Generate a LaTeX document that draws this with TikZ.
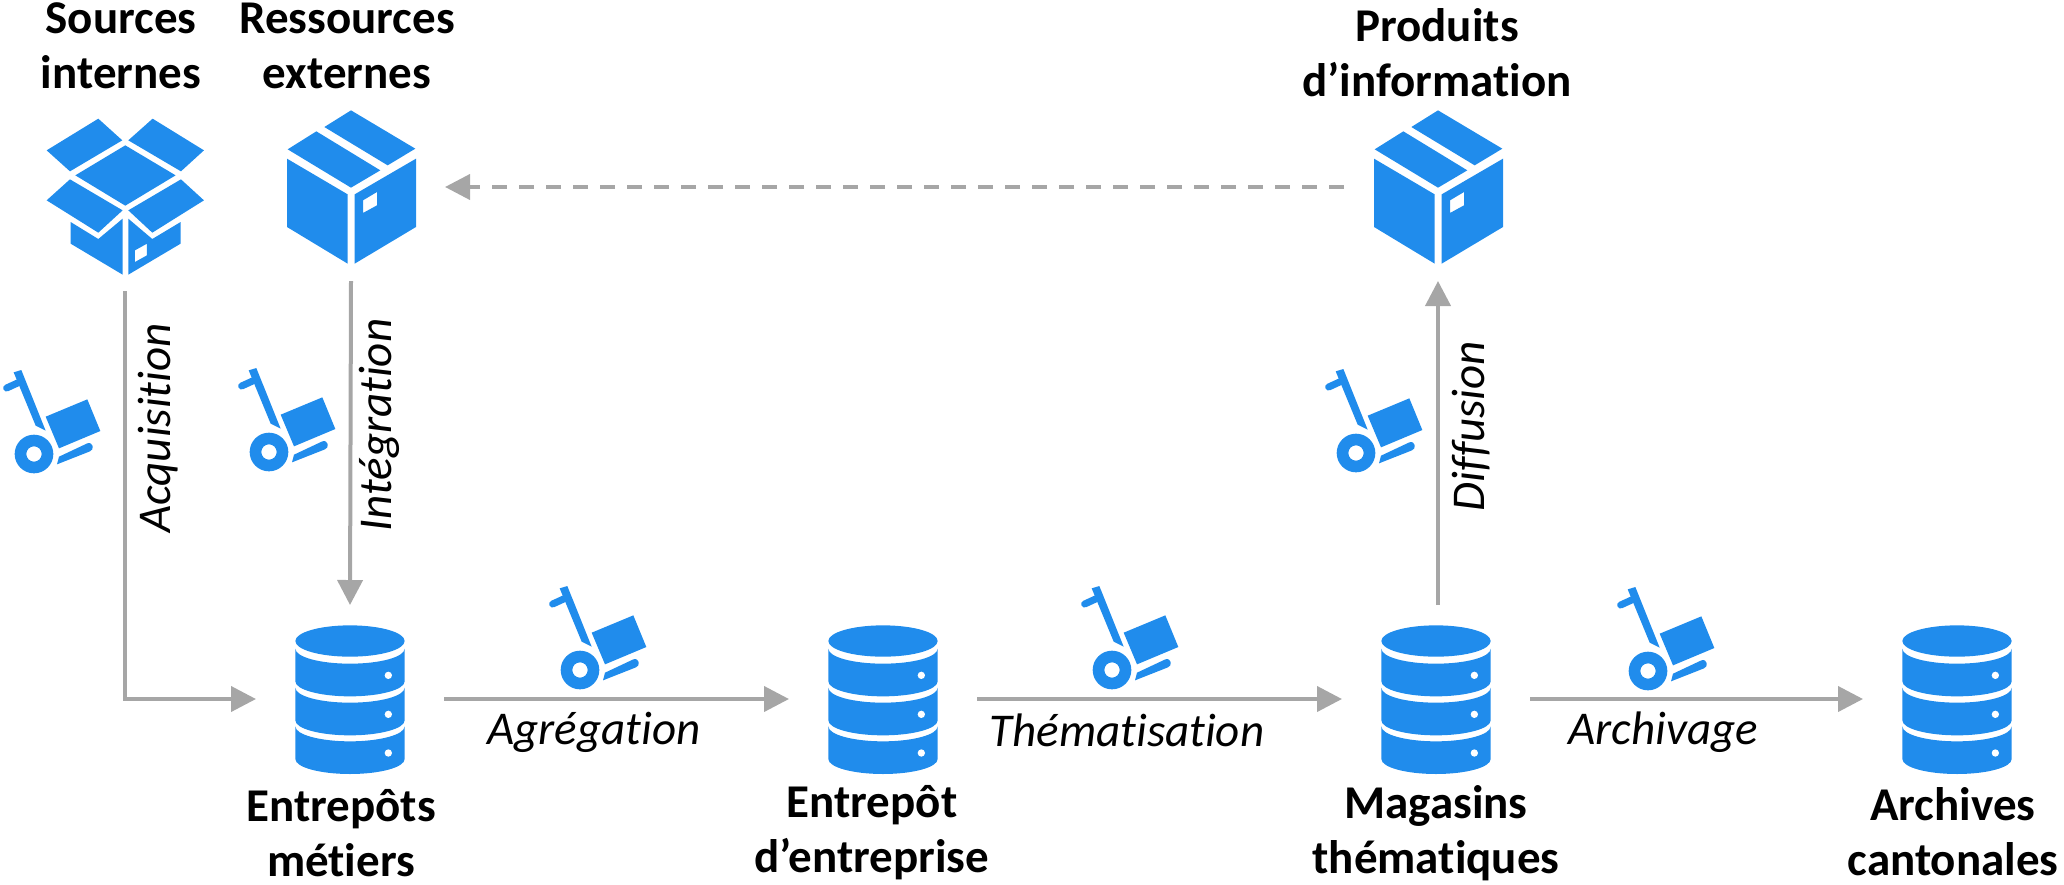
\documentclass[tikz,border=0pt]{standalone}
\usepackage{fontspec}
\setmainfont[Ligatures=NoCommon]{Carlito}
\usepackage[HTML]{xcolor}
\usetikzlibrary{arrows.meta}
\definecolor{iconblue}{HTML}{208CEC}
\definecolor{flowgray}{HTML}{A6A6A6}
\tikzset{
  spot/.style={minimum size=94pt,inner sep=0pt,outer sep=0pt},
  icon/.style={scale=0.3333},
  title/.style={font=\fontsize{23.5}{27.5}\selectfont\bfseries,align=center,inner sep=0pt},
  step label/.style={font=\fontsize{23.5}{27.5}\selectfont\itshape,inner sep=0pt},
  flow/.style={draw=flowgray,line width=2pt,-{Triangle[length=12.5pt,width=12.5pt]}},
  pics/dbstack/.style={code={
    \fill[iconblue] (0,-174) ellipse (164 and 47);
    \foreach \s in {-151,-34,82} {
      \fill[iconblue] (-164,\s) .. controls (-164,\s+25) and (-90,\s+45) .. (0,\s+45)
        .. controls (90,\s+45) and (164,\s+25) .. (164,\s) -- (164,\s+98)
        .. controls (164,\s+123) and (90,\s+143) .. (0,\s+143)
        .. controls (-90,\s+143) and (-164,\s+123) .. (-164,\s+98) -- cycle;
      \fill[white] (115,\s+80) circle (11);
    }
  }},
  pics/closedcrate/.style={code={
    \fill[iconblue] (0,-230)--(193,-115)--(110,-65)--(-80,-180)--cycle;
    \fill[iconblue] (-104,-167)--(88,-50)--(0,2)--(-190,-113)--cycle;
    \fill[iconblue] (-192,-85)--(-10,22)--(-10,230)--(-192,120)--cycle;
    \fill[iconblue,even odd rule] (11,22)--(195,-85)--(195,120)--(11,230)--cycle
      (36,40)--(78,15)--(78,55)--(36,78)--cycle;
  }},
  pics/opencrate/.style={code={
    \fill[iconblue] (-81,-235)--(-9,-170)--(-166,-77)--(-236,-140)--cycle;
    \fill[iconblue] (82,-235)--(236,-140)--(167,-77)--(9,-170)--cycle;
    \fill[iconblue] (0,-155)--(151,-65)--(0,26)--(-150,-65)--cycle;
    \fill[iconblue] (-166,-53)--(-8,40)--(-81,107)--(-236,10)--cycle;
    \fill[iconblue] (167,-53)--(236,10)--(81,107)--(9,40)--cycle;
    \fill[iconblue] (-164,75)--(-81,126)--(-8,65)--(-8,233)--(-164,140)--cycle;
    \fill[iconblue,even odd rule] (9,65)--(81,126)--(166,75)--(166,140)--(9,233)--cycle
      (29,160)--(65,140)--(65,175)--(29,195)--cycle;
  }},
  pics/dolly/.style={code={
    \fill[iconblue] (-61,-245)--(-38,-252)--(35,-70)--(5,-85)--cycle;
    \draw[iconblue,line width=3.5pt,line cap=round] (-82,-198)--(-45,-215);
    \fill[iconblue] (35,-112)--(160,-164)--(199,-69)--(75,-17)--cycle;
    \fill[iconblue,even odd rule] (0,0) circle (58) (0,0) circle (23);
    \fill[iconblue] (75,8)--(160,-32) .. controls (178,-38) and (182,-12) .. (168,-8)--(69,31)--cycle;
  }},
}
\begin{document}
\begin{tikzpicture}[x=0.5pt,y=-0.5pt]
\useasboundingbox (0,0) rectangle (2064,884);
% Icon spots
\node[spot] (internes) at (125.3,197) {};
\node[spot] (externes) at (351,187) {};
\node[spot] (produits) at (1438,187) {};
\node[spot] (metiers) at (350,699) {};
\node[spot] (entreprise) at (883,699) {};
\node[spot] (magasins) at (1436,699) {};
\node[spot] (archives) at (1957,699) {};
% Icons
\pic[icon] at (internes) {opencrate};
\pic[icon] at (externes) {closedcrate};
\pic[icon] at (produits) {closedcrate};
\foreach \n in {metiers,entreprise,magasins,archives}
  \pic[icon] at (\n) {dbstack};
\foreach \x/\y in {34/454,269/452,580/670,1112/670,1356/453,1648/671}
  \pic[icon] at (\x,\y) {dolly};
% Titles
\node[title] (t1) at (121,46) {Sources\\internes};
\node[title] (t2) at (347,46) {Ressources\\externes};
\node[title] (t3) at (1437,53) {Produits\\d’information};
\node[title] (t4) at (341,833) {Entrepôts\\métiers};
\node[title] (t5) at (872,833) {Entrepôt\\d’entreprise};
\node[title] (t6) at (1436,833) {Magasins\\thématiques};
\node[title] (t7) at (1953,832) {Archives\\cantonales};
% Connectors
\draw[flow] (internes.south) |- (metiers.west);
\draw[flow] (externes.south) -- (metiers.north);
\draw[flow] (metiers.east) -- (entreprise.west);
\draw[flow] (entreprise.east) -- (magasins.west);
\draw[flow] (magasins.east) -- (archives.west);
\draw[flow] (magasins.north -| produits) -- (produits.south);
\draw[flow,dash pattern=on 7.5pt off 6pt] (produits.west) -- (externes.east);
% Step labels
\node[step label,rotate=90] (l1) at (158,428) {Acquisition};
\node[step label,rotate=90] (l2) at (379,425) {Intégration};
\node[step label,rotate=90] (l3) at (1471,426) {Diffusion};
\node[step label] (l4) at (594,732) {Agrégation};
\node[step label] (l5) at (1127,730) {Thématisation};
\node[step label] (l6) at (1663,732) {Archivage};
\end{tikzpicture}
\end{document}
